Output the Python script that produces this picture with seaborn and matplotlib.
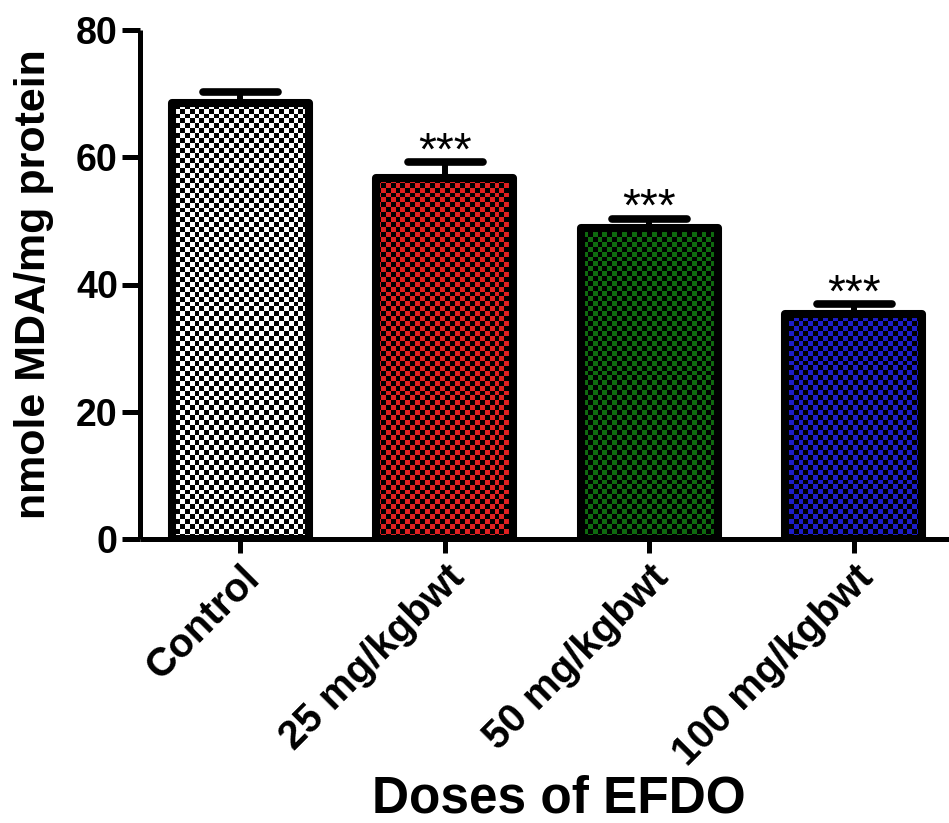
import numpy as np
import pandas as pd
import matplotlib
matplotlib.use("Agg")
import matplotlib.pyplot as plt
from matplotlib.markers import MarkerStyle
import seaborn as sns

# MDA levels per treatment group (mean and SEM)
groups = ["Control", "25 mg/kgbwt", "50 mg/kgbwt", "100 mg/kgbwt"]
mda_mean = [68.6, 56.8, 48.9, 35.4]
mda_sem = [1.65, 2.4, 1.4, 1.5]
significance = ["", "***", "***", "***"]
bar_colors = ["#FFFFFF", "#FF0000", "#007A00", "#0000E6"]

y_ticks = [0, 20, 40, 60, 80]

df = pd.DataFrame({"group": groups, "mda": mda_mean})

sns.set_style("ticks")
plt.rcParams["font.family"] = ["Liberation Sans", "DejaVu Sans"]
plt.rcParams["font.weight"] = "bold"
plt.rcParams["text.color"] = "black"
plt.rcParams["axes.labelcolor"] = "black"
plt.rcParams["xtick.color"] = "black"
plt.rcParams["ytick.color"] = "black"
plt.rcParams["axes.edgecolor"] = "black"

W, H, DPI = 949, 823, 100
fig = plt.figure(figsize=(W / DPI, H / DPI), dpi=DPI)
ax_left, ax_bottom = 140 / W, (H - 539) / H
ax_top = (H - 30) / H
ax_right = 956 / W
ax = fig.add_axes([ax_left, ax_bottom, ax_right - ax_left, ax_top - ax_bottom])

sns.barplot(data=df, x="group", y="mda", hue="group", palette=bar_colors,
            width=0.67, edgecolor="black", linewidth=5.8, legend=False,
            ax=ax, zorder=3)

ax.set_xlim(-0.49, 3.5)
ax.set_ylim(0, 80)

# Checkerboard fill: transparent/black cells clipped to each bar
ax_px_w = (ax_right - ax_left) * W
ax_px_h = (ax_top - ax_bottom) * H
cell = 4.9
nx = int(ax_px_w / cell)
ny = int(ax_px_h / cell)
ii, jj = np.indices((ny, nx))
checker = np.zeros((ny, nx, 4))
checker[..., 3] = ((ii + jj) % 2 == 0).astype(float)
for patch in ax.patches:
    patch.set_joinstyle("round")
    im = ax.imshow(checker, extent=[-0.49, 3.5, 0, 80], aspect="auto",
                   interpolation="nearest", zorder=3.5, origin="lower")
    im.set_clip_path(patch)
ax.set_xlim(-0.49, 3.5)
ax.set_ylim(0, 80)

# Upper-only error bars
x_pos = np.arange(len(groups))
eb = ax.errorbar(x_pos, mda_mean, yerr=[np.zeros(len(groups)), mda_sem],
                 fmt="none", ecolor="black", elinewidth=4.3, capsize=27,
                 capthick=5.5, zorder=2)
for cl in eb[1]:
    cl.set_marker(MarkerStyle("_", capstyle="round"))

for xp, m, s, lab in zip(x_pos, mda_mean, mda_sem, significance):
    if lab:
        ax.annotate(lab, xy=(xp, m + s), xytext=(0, -1.5),
                    textcoords="offset points", ha="center", va="baseline",
                    fontsize=33, fontweight="normal", color="black",
                    annotation_clip=False, zorder=5)

ax.set_yticks(y_ticks)
ax.set_yticklabels([str(t) for t in y_ticks], fontsize=27, fontweight="bold")
ax.set_xticks(x_pos)
ax.set_xticklabels(groups, fontsize=29, fontweight="bold", rotation=45,
                   ha="right", rotation_mode="anchor")
ax.tick_params(axis="y", length=13, width=3.6, pad=3)
ax.tick_params(axis="x", length=10, width=3.6, pad=4)

for side in ["top", "right"]:
    ax.spines[side].set_visible(False)
for side in ["left", "bottom"]:
    ax.spines[side].set_linewidth(3.6)
    ax.spines[side].set_capstyle("butt")

ax.set_xlabel("Doses of EFDO", fontsize=37, fontweight="bold")
ax.xaxis.set_label_coords(0.513, -0.463)
ax.set_ylabel("nmole MDA/mg protein", fontsize=31, fontweight="bold",
              labelpad=16)

fig.savefig("out.png", dpi=DPI)
